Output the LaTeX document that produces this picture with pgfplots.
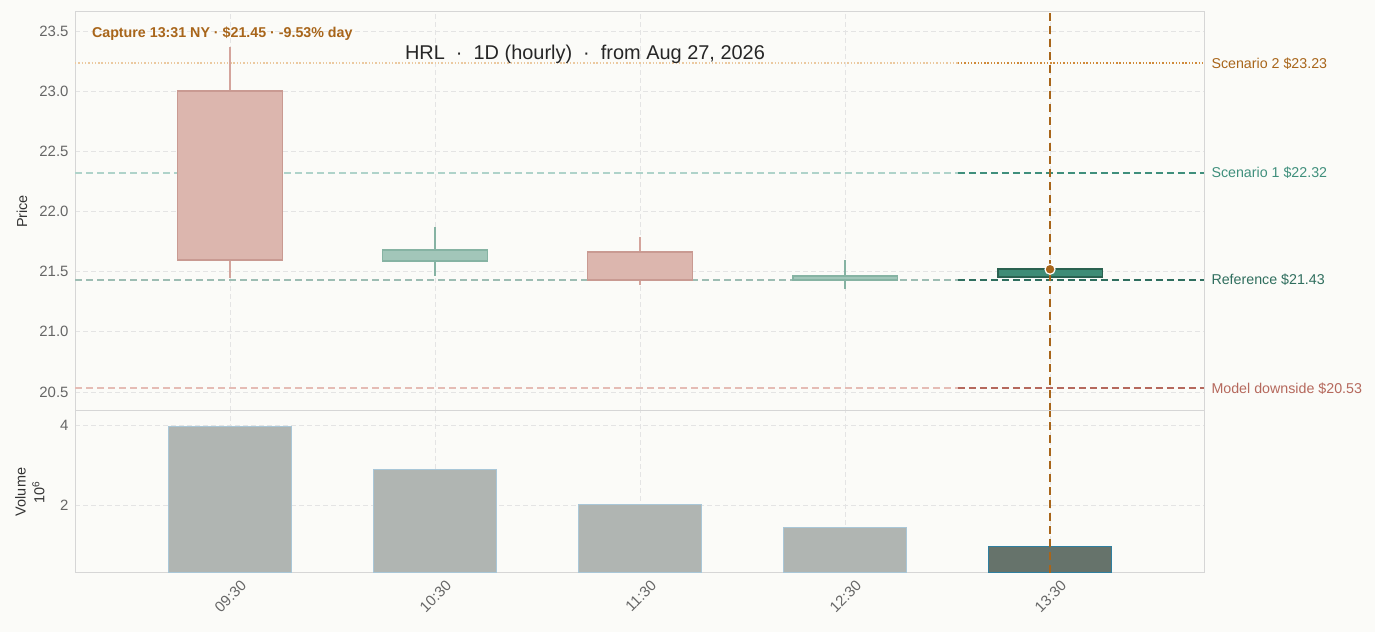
\documentclass[border=0pt]{standalone}
\usepackage{fontspec}
\setmainfont{Liberation Sans}
\usepackage{pgfplots}
\pgfplotsset{compat=1.18}
\definecolor{bg}{HTML}{FBFBF8}
\definecolor{axgray}{HTML}{D6D6D6}
\definecolor{gridgray}{HTML}{E4E4E4}
\definecolor{tickgray}{HTML}{666666}
\definecolor{orng}{HTML}{A8651A}
\definecolor{orngdot}{HTML}{D08A3A}
\definecolor{orngfade}{HTML}{EBC9A0}
\definecolor{sc1}{HTML}{3F8F7C}
\definecolor{sc1fade}{HTML}{AFD3CA}
\definecolor{refc}{HTML}{2F6E5E}
\definecolor{reffade}{HTML}{9DBDB3}
\definecolor{down}{HTML}{B5685C}
\definecolor{downfade}{HTML}{E5BCB5}
\definecolor{redfill}{HTML}{DCB6AE}
\definecolor{rededge}{HTML}{C99A92}
\definecolor{redwick}{HTML}{D4A49C}
\definecolor{grnfill}{HTML}{A2C6B9}
\definecolor{grnedge}{HTML}{86B3A3}
\definecolor{curfill}{HTML}{3F8C76}
\definecolor{curedge}{HTML}{2A6150}
\definecolor{volfill}{HTML}{B0B5B2}
\definecolor{voledge}{HTML}{A9C7D8}
\definecolor{vollast}{HTML}{66736B}
\definecolor{vollastedge}{HTML}{2F7FA0}
\pgfplotsset{
  common/.style={
    scale only axis, width=1129bp,
    xmin=-0.756, xmax=4.751,
    axis line style={draw=axgray, line width=1bp},
    major tick length=0pt,
    grid=major,
    major grid style={draw=gridgray, line width=0.8bp, dash pattern=on 5bp off 3bp},
    xtick={0,1,2,3,4},
    tick label style={font=\fontsize{15}{17}\selectfont, text=tickgray},
    yticklabel style={xshift=-3bp},
    /pgf/number format/assume math mode=true,
    clip=false,
  }
}
\begin{document}
\begin{tikzpicture}
\fill[bg] (0bp,0bp) rectangle (1375bp,632bp);
% ---------------- price axis
\begin{axis}[common,
  at={(75bp,221bp)}, anchor=south west, height=399bp,
  ymin=20.342, ymax=23.658,
  ytick={20.5,21,21.5,22,22.5,23,23.5},
  yticklabel style={/pgf/number format/.cd, fixed, fixed zerofill, precision=1},
  xticklabels={},
  ylabel={Price},
  every axis y label/.style={at={(axis description cs:-0.047,0.5)}, anchor=center, rotate=90, font=\fontsize{14.5}{16}\selectfont, text=black!80},
]
% faded / full reference lines
\addplot[draw=orngfade, line width=2bp, line cap=butt, dash pattern=on 1.4bp off 1.9bp] coordinates {(-0.756,23.23) (3.55,23.23)};
\addplot[draw=orngdot, line width=2bp, line cap=butt, dash pattern=on 1.4bp off 1.9bp] coordinates {(3.55,23.23) (4.751,23.23)};
\addplot[sc1fade, line width=2bp, dash pattern=on 7bp off 4bp] coordinates {(-0.756,22.32) (3.55,22.32)};
\addplot[sc1, line width=2bp, dash pattern=on 7bp off 4bp] coordinates {(3.55,22.32) (4.751,22.32)};
\addplot[reffade, line width=2bp, dash pattern=on 7bp off 4bp] coordinates {(-0.756,21.43) (3.55,21.43)};
\addplot[refc, line width=2bp, dash pattern=on 7bp off 4bp] coordinates {(3.55,21.43) (4.751,21.43)};
\addplot[downfade, line width=2bp, dash pattern=on 7bp off 4bp] coordinates {(-0.756,20.53) (3.55,20.53)};
\addplot[down, line width=2bp, dash pattern=on 7bp off 4bp] coordinates {(3.55,20.53) (4.751,20.53)};
% candles: wicks
\addplot[redwick, line width=2bp] coordinates {(0,21.45) (0,23.367)};
\addplot[grnedge, line width=2bp] coordinates {(1,21.465) (1,21.87)};
\addplot[redwick, line width=2bp] coordinates {(2,21.39) (2,21.79)};
\addplot[grnedge, line width=2bp] coordinates {(3,21.357) (3,21.60)};
% bodies
\addplot[fill=redfill, draw=rededge, line width=1.5bp] coordinates {(-0.255,23.0) (0.255,23.0) (0.255,21.598) (-0.255,21.598)} -- cycle;
\addplot[fill=grnfill, draw=grnedge, line width=1.5bp] coordinates {(0.745,21.59) (1.255,21.59) (1.255,21.68) (0.745,21.68)} -- cycle;
\addplot[fill=redfill, draw=rededge, line width=1.5bp] coordinates {(1.745,21.665) (2.255,21.665) (2.255,21.43) (1.745,21.43)} -- cycle;
\addplot[fill=grnfill, draw=grnedge, line width=1.5bp] coordinates {(2.745,21.43) (3.255,21.43) (3.255,21.465) (2.745,21.465)} -- cycle;
\addplot[fill=curfill, draw=curedge, line width=1.5bp] coordinates {(3.745,21.457) (4.255,21.457) (4.255,21.523) (3.745,21.523)} -- cycle;
% vertical capture line
\addplot[orng, line width=2bp, dash pattern=on 8bp off 5bp] coordinates {(4,20.342) (4,23.658)};
\addplot[only marks, mark=*, mark size=5bp, mark options={fill=orng, draw=white, line width=1.2bp}] coordinates {(4,21.52)};
% side labels
\node[anchor=west, text=orng, font=\fontsize{14.3}{16}\selectfont, xshift=4bp] at (axis cs:4.751,23.23) {Scenario 2 \$23.23};
\node[anchor=west, text=sc1, font=\fontsize{14.3}{16}\selectfont, xshift=4bp] at (axis cs:4.751,22.32) {Scenario 1 \$22.32};
\node[anchor=west, text=refc, font=\fontsize{14.3}{16}\selectfont, xshift=4bp] at (axis cs:4.751,21.43) {Reference \$21.43};
\node[anchor=west, text=down, font=\fontsize{14.3}{16}\selectfont, xshift=4bp] at (axis cs:4.751,20.53) {Model downside \$20.53};
\node[anchor=west, text=orng, font=\bfseries\fontsize{14.3}{16}\selectfont] at (axis description cs:0.012,0.945) {Capture 13:31 NY · \$21.45 · -9.53\% day};
\node[anchor=center, text=black!85, font=\fontsize{20}{22}\selectfont] at (axis description cs:0.4517,0.895) {HRL\ \ ·\ \ 1D (hourly)\ \ ·\ \ from Aug 27, 2026};
\end{axis}
% ---------------- volume axis
\begin{axis}[common,
  at={(75bp,59bp)}, anchor=south west, height=162bp,
  ymin=0.3, ymax=4.35,
  ytick={2,4}, yticklabels={2,4},
  xticklabels={09:30,10:30,11:30,12:30,13:30},
  xticklabel style={rotate=45, anchor=north east, xshift=6bp, yshift=-8bp},
  ylabel={Volume\\10\textsuperscript{6}},
  every axis y label/.style={at={(axis description cs:-0.040,0.5)}, anchor=center, rotate=90, align=center, font=\fontsize{14.5}{19}\selectfont, text=black!80},
]
\addplot[ybar, bar width=0.6, fill=volfill, draw=voledge, line width=1bp] coordinates {(0,3.95) (1,2.875) (2,2.0) (3,1.425)};
\addplot[ybar, bar width=0.6, fill=vollast, draw=vollastedge, line width=1bp] coordinates {(4,0.95)};
\addplot[orng, line width=2bp, dash pattern=on 8bp off 5bp] coordinates {(4,0.3) (4,4.35)};
\end{axis}
\end{tikzpicture}
\end{document}
